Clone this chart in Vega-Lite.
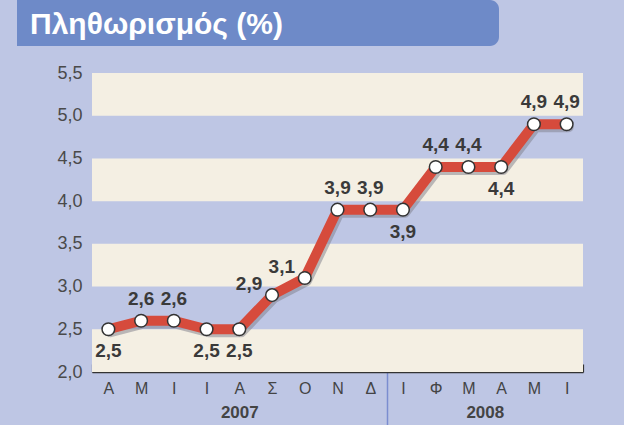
{
  "$schema": "https://vega.github.io/schema/vega-lite/v6.json",
  "background": "#bec6e4",
  "padding": {"left": 17, "top": 0, "right": 41, "bottom": 0},
  "config": {
    "locale": {"number": {"decimal": ",", "thousands": ".", "grouping": [3], "currency": ["", " €"]}},
    "view": {"stroke": null},
    "font": "Liberation Sans"
  },
  "spacing": 18,
  "vconcat": [
    {
      "width": 482,
      "height": 46,
      "data": {"values": [{"banner": "Πληθωρισμός (%)"}]},
      "layer": [
        {
          "mark": {"type": "rect", "color": "#6e8ac8", "cornerRadiusTopRight": 9, "cornerRadiusBottomRight": 9},
          "encoding": {}
        },
        {
          "mark": {"type": "text", "align": "left", "baseline": "alphabetic", "dx": -228, "dy": 11, "fontSize": 30, "fontWeight": "bold", "color": "#ffffff", "font": "Liberation Sans"},
          "encoding": {"text": {"field": "banner", "type": "nominal"}}
        }
      ]
    },
    {
      "width": 566,
      "height": 299,
      "layer": [
        {
          "data": {"values": [
            {"lo": 2.0, "hi": 2.5},
            {"lo": 3.0, "hi": 3.5},
            {"lo": 4.0, "hi": 4.5},
            {"lo": 5.0, "hi": 5.5}
          ]},
          "mark": {"type": "rect", "color": "#f4efe3"},
          "encoding": {
            "x": {
              "datum": 0, "type": "quantitative",
              "scale": {"domain": [0, 15], "range": [75, 566], "nice": false, "zero": false},
              "axis": {
                "title": null,
                "orient": "bottom",
                "values": [4.5, 9, 12],
                "labelExpr": "datum.value == 9 ? '' : (datum.value < 9 ? '2007' : '2008')",
                "labelFontSize": 17,
                "labelFontWeight": "bold",
                "labelColor": "#444444",
                "labelPadding": -21,
                "labelFlush": false,
                "labelOverlap": false,
                "domain": false,
                "grid": false,
                "ticks": true,
                "tickSize": 53,
                "tickWidth": 1.5,
                "tickColor": "#7b8dd0",
                "tickOpacity": {"condition": {"test": "datum.value == 9", "value": 1}, "value": 0}
              }
            },
            "x2": {"datum": 15},
            "y": {
              "field": "lo", "type": "quantitative",
              "scale": {"domain": [2, 5.5], "nice": false, "zero": false},
              "axis": {
                "values": [2, 2.5, 3, 3.5, 4, 4.5, 5, 5.5],
                "format": ".1f",
                "title": null,
                "domain": false,
                "ticks": false,
                "grid": false,
                "offset": -75,
                "labelFontSize": 18,
                "labelColor": "#4a4a4a",
                "labelPadding": 10
              }
            },
            "y2": {"field": "hi"}
          }
        },
        {
          "data": {"values": [
            {"month": "2007-04", "v": 2.5},
            {"month": "2007-05", "v": 2.6},
            {"month": "2007-06", "v": 2.6},
            {"month": "2007-07", "v": 2.5},
            {"month": "2007-08", "v": 2.5},
            {"month": "2007-09", "v": 2.9},
            {"month": "2007-10", "v": 3.1},
            {"month": "2007-11", "v": 3.9},
            {"month": "2007-12", "v": 3.9},
            {"month": "2008-01", "v": 3.9},
            {"month": "2008-02", "v": 4.4},
            {"month": "2008-03", "v": 4.4},
            {"month": "2008-04", "v": 4.4},
            {"month": "2008-05", "v": 4.9},
            {"month": "2008-06", "v": 4.9}
          ]},
          "encoding": {
            "x": {
              "field": "month", "type": "ordinal",
              "scale": {"type": "band", "paddingInner": 0, "paddingOuter": 0, "range": [75, 566]},
              "axis": {
                "title": null,
                "orient": "bottom",
                "labelAngle": 0,
                "labelExpr": "['Ι','Φ','Μ','Α','Μ','Ι','Ι','Α','Σ','Ο','Ν','Δ'][toNumber(substring(datum.value, 5, 7)) - 1]",
                "labelFontSize": 16,
                "labelColor": "#444444",
                "labelPadding": 16,
                "domain": true,
                "domainColor": "#333333",
                "domainWidth": 1.3,
                "ticks": true,
                "tickBand": "extent",
                "tickSize": -8,
                "tickColor": "#333333",
                "tickWidth": 1.2,
                "grid": false
              }
            },
            "y": {
              "field": "v", "type": "quantitative",
              "scale": {"domain": [2, 5.5], "nice": false, "zero": false},
              "axis": {
                "values": [2, 2.5, 3, 3.5, 4, 4.5, 5, 5.5],
                "format": ".1f",
                "title": null,
                "domain": false,
                "ticks": false,
                "grid": false,
                "offset": -75,
                "labelFontSize": 18,
                "labelColor": "#4a4a4a",
                "labelPadding": 10
              }
            }
          },
          "layer": [
            {
              "mark": {"type": "line", "color": "#7d7d8a", "opacity": 0.5, "strokeWidth": 10, "strokeJoin": "round", "strokeCap": "round", "xOffset": 2, "yOffset": 3}
            },
            {
              "mark": {"type": "line", "color": "#d64b3c", "strokeWidth": 10, "strokeJoin": "round", "strokeCap": "round"}
            },
            {
              "mark": {"type": "circle", "fill": "#ffffff", "stroke": "#333333", "strokeWidth": 1.5, "size": 160, "opacity": 1}
            },
            {
              "transform": [{"filter": "indexof(['2007-04','2007-07','2007-08','2008-01','2008-04','2007-09','2007-10'], datum.month) < 0"}],
              "mark": {"type": "text", "dy": -22, "fontSize": 19, "fontWeight": "bold", "color": "#3a3a3a"},
              "encoding": {"text": {"field": "v", "type": "quantitative", "format": ".1f"}}
            },
            {
              "transform": [{"filter": "indexof(['2007-04','2007-07','2007-08','2008-01','2008-04'], datum.month) >= 0"}],
              "mark": {"type": "text", "dy": 22, "fontSize": 19, "fontWeight": "bold", "color": "#3a3a3a"},
              "encoding": {"text": {"field": "v", "type": "quantitative", "format": ".1f"}}
            },
            {
              "transform": [{"filter": "indexof(['2007-09','2007-10'], datum.month) >= 0"}],
              "mark": {"type": "text", "dx": -23, "dy": -11, "fontSize": 19, "fontWeight": "bold", "color": "#3a3a3a"},
              "encoding": {"text": {"field": "v", "type": "quantitative", "format": ".1f"}}
            }
          ]
        }
      ],
      "resolve": {"scale": {"x": "independent"}, "axis": {"x": "independent"}}
    }
  ]
}
